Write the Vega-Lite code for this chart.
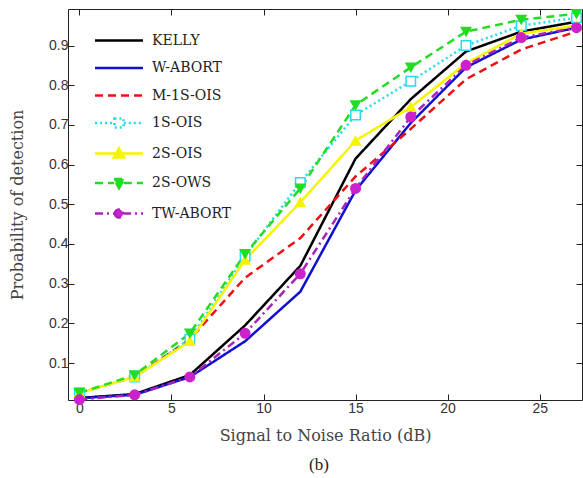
{
  "$schema": "https://vega.github.io/schema/vega-lite/v6.json",
  "width": 514,
  "height": 391,
  "autosize": {"type": "none"},
  "padding": {"left": 68, "top": 9, "right": 1, "bottom": 78},
  "background": "white",
  "title": {"text": "(b)", "orient": "bottom", "anchor": "middle", "font": "Liberation Serif", "fontSize": 17, "fontWeight": "normal", "color": "#222", "offset": 14, "dx": -6},
  "config": {
    "view": {"stroke": null},
    "axis": {"domainColor": "#222", "domainWidth": 1, "tickColor": "#222", "tickSize": -6, "tickWidth": 1, "labelFont": "Liberation Sans", "labelFontSize": 14, "labelColor": "#333", "titleFont": "DejaVu Serif", "titleFontSize": 16, "titleFontWeight": "normal", "titleColor": "#444", "grid": false}
  },
  "data": {"values": [
    {"series": "KELLY", "snr": 0, "pd": 0.012}, {"series": "KELLY", "snr": 3, "pd": 0.022}, {"series": "KELLY", "snr": 6, "pd": 0.07}, {"series": "KELLY", "snr": 9, "pd": 0.195}, {"series": "KELLY", "snr": 12, "pd": 0.345}, {"series": "KELLY", "snr": 15, "pd": 0.615}, {"series": "KELLY", "snr": 18, "pd": 0.765}, {"series": "KELLY", "snr": 21, "pd": 0.885}, {"series": "KELLY", "snr": 24, "pd": 0.935}, {"series": "KELLY", "snr": 27, "pd": 0.96},
    {"series": "W-ABORT", "snr": 0, "pd": 0.012}, {"series": "W-ABORT", "snr": 3, "pd": 0.02}, {"series": "W-ABORT", "snr": 6, "pd": 0.065}, {"series": "W-ABORT", "snr": 9, "pd": 0.155}, {"series": "W-ABORT", "snr": 12, "pd": 0.28}, {"series": "W-ABORT", "snr": 15, "pd": 0.535}, {"series": "W-ABORT", "snr": 18, "pd": 0.705}, {"series": "W-ABORT", "snr": 21, "pd": 0.845}, {"series": "W-ABORT", "snr": 24, "pd": 0.915}, {"series": "W-ABORT", "snr": 27, "pd": 0.945},
    {"series": "M-1S-OIS", "snr": 0, "pd": 0.025}, {"series": "M-1S-OIS", "snr": 3, "pd": 0.065}, {"series": "M-1S-OIS", "snr": 6, "pd": 0.16}, {"series": "M-1S-OIS", "snr": 9, "pd": 0.315}, {"series": "M-1S-OIS", "snr": 12, "pd": 0.415}, {"series": "M-1S-OIS", "snr": 15, "pd": 0.57}, {"series": "M-1S-OIS", "snr": 18, "pd": 0.69}, {"series": "M-1S-OIS", "snr": 21, "pd": 0.815}, {"series": "M-1S-OIS", "snr": 24, "pd": 0.89}, {"series": "M-1S-OIS", "snr": 27, "pd": 0.935},
    {"series": "1S-OIS", "snr": 0, "pd": 0.025}, {"series": "1S-OIS", "snr": 3, "pd": 0.065}, {"series": "1S-OIS", "snr": 6, "pd": 0.16}, {"series": "1S-OIS", "snr": 9, "pd": 0.37}, {"series": "1S-OIS", "snr": 12, "pd": 0.555}, {"series": "1S-OIS", "snr": 15, "pd": 0.725}, {"series": "1S-OIS", "snr": 18, "pd": 0.81}, {"series": "1S-OIS", "snr": 21, "pd": 0.9}, {"series": "1S-OIS", "snr": 24, "pd": 0.95}, {"series": "1S-OIS", "snr": 27, "pd": 0.97},
    {"series": "2S-OIS", "snr": 0, "pd": 0.025}, {"series": "2S-OIS", "snr": 3, "pd": 0.065}, {"series": "2S-OIS", "snr": 6, "pd": 0.155}, {"series": "2S-OIS", "snr": 9, "pd": 0.36}, {"series": "2S-OIS", "snr": 12, "pd": 0.505}, {"series": "2S-OIS", "snr": 15, "pd": 0.66}, {"series": "2S-OIS", "snr": 18, "pd": 0.745}, {"series": "2S-OIS", "snr": 21, "pd": 0.855}, {"series": "2S-OIS", "snr": 24, "pd": 0.93}, {"series": "2S-OIS", "snr": 27, "pd": 0.95},
    {"series": "2S-OWS", "snr": 0, "pd": 0.025}, {"series": "2S-OWS", "snr": 3, "pd": 0.07}, {"series": "2S-OWS", "snr": 6, "pd": 0.175}, {"series": "2S-OWS", "snr": 9, "pd": 0.375}, {"series": "2S-OWS", "snr": 12, "pd": 0.54}, {"series": "2S-OWS", "snr": 15, "pd": 0.75}, {"series": "2S-OWS", "snr": 18, "pd": 0.845}, {"series": "2S-OWS", "snr": 21, "pd": 0.935}, {"series": "2S-OWS", "snr": 24, "pd": 0.965}, {"series": "2S-OWS", "snr": 27, "pd": 0.98},
    {"series": "TW-ABORT", "snr": 0, "pd": 0.008}, {"series": "TW-ABORT", "snr": 3, "pd": 0.02}, {"series": "TW-ABORT", "snr": 6, "pd": 0.065}, {"series": "TW-ABORT", "snr": 9, "pd": 0.175}, {"series": "TW-ABORT", "snr": 12, "pd": 0.325}, {"series": "TW-ABORT", "snr": 15, "pd": 0.54}, {"series": "TW-ABORT", "snr": 18, "pd": 0.72}, {"series": "TW-ABORT", "snr": 21, "pd": 0.85}, {"series": "TW-ABORT", "snr": 24, "pd": 0.92}, {"series": "TW-ABORT", "snr": 27, "pd": 0.945}
  ]},
  "layer": [
    {
      "mark": {"type": "line", "strokeWidth": 2.5},
      "encoding": {
        "x": {"field": "snr", "type": "quantitative", "scale": {"domain": [-0.62, 27.3], "nice": false, "zero": false}, "axis": {"orient": "bottom", "values": [0, 5, 10, 15, 20, 25], "title": "Signal to Noise Ratio (dB)", "labelPadding": 7, "titlePadding": 12}},
        "y": {"field": "pd", "type": "quantitative", "scale": {"domain": [0.007, 0.992], "nice": false, "zero": false}, "axis": {"orient": "left", "values": [0.1, 0.2, 0.3, 0.4, 0.5, 0.6, 0.7, 0.8, 0.9], "format": ".1f", "title": "Probability of detection", "labelPadding": 6, "titlePadding": 23}},
        "color": {"field": "series", "type": "nominal",
          "scale": {"domain": ["KELLY", "W-ABORT", "M-1S-OIS", "1S-OIS", "2S-OIS", "2S-OWS", "TW-ABORT"], "range": ["#000000", "#1010d0", "#ee1111", "#22ddee", "#f5f500", "#22dd22", "#aa22bb"]},
          "legend": {
            "title": null, "orient": "none", "legendX": 27, "legendY": 18, "padding": 0,
            "symbolSize": 100, "symbolStrokeWidth": 2.5, "rowPadding": 6.5, "labelOffset": 8,
            "labelFont": "DejaVu Serif", "labelFontSize": 14, "labelColor": "#222",
            "encode": {
              "symbols": {"update": {
                "shape": {"signal": "datum.value === '1S-OIS' ? 'M-2,0H-0.4M0.4,0H2M-0.38,-0.38H0.38V0.38H-0.38Z' : datum.value === '2S-OIS' ? 'M-2,0H2M0,-0.44L0.44,0.34H-0.44Z' : datum.value === '2S-OWS' ? 'M-2,0H-0.4M0.4,0H2M0,0.44L0.44,-0.34H-0.44Z' : datum.value === 'TW-ABORT' ? 'M-2,0H-0.34M0.34,0H2M-0.34,0A0.34,0.34,0,1,0,0.34,0A0.34,0.34,0,1,0,-0.34,0Z' : 'M-2,0H2'"},
                "size": {"value": 576},
                "x": {"value": 24},
                "fill": {"signal": "datum.value === '2S-OIS' ? '#f5f500' : datum.value === '2S-OWS' ? '#22dd22' : datum.value === 'TW-ABORT' ? '#cc22cc' : datum.value === '1S-OIS' ? 'white' : 'transparent'"},
                "opacity": {"value": 1}
              }},
              "labels": {"update": {"x": {"value": 57}}}
            }
          }
        },
        "strokeDash": {"field": "series", "type": "nominal",
          "scale": {"domain": ["KELLY", "W-ABORT", "M-1S-OIS", "1S-OIS", "2S-OIS", "2S-OWS", "TW-ABORT"], "range": [[1, 0], [1, 0], [8, 5], [2, 3], [1, 0], [8, 5], [8, 4, 2, 4]]}
        }
      }
    },
    {
      "transform": [{"filter": {"field": "series", "oneOf": ["1S-OIS", "2S-OIS", "2S-OWS", "TW-ABORT"]}}],
      "mark": {"type": "point", "strokeWidth": 1.5, "opacity": 1},
      "encoding": {
        "x": {"field": "snr", "type": "quantitative", "scale": {"domain": [-0.62, 27.3], "nice": false, "zero": false}, "axis": {"orient": "top", "values": [0, 5, 10, 15, 20, 25], "labels": false, "title": null}},
        "y": {"field": "pd", "type": "quantitative", "scale": {"domain": [0.007, 0.992], "nice": false, "zero": false}, "axis": {"orient": "right", "values": [0.1, 0.2, 0.3, 0.4, 0.5, 0.6, 0.7, 0.8, 0.9], "labels": false, "title": null}},
        "shape": {"field": "series", "type": "nominal", "scale": {"domain": ["1S-OIS", "2S-OIS", "2S-OWS", "TW-ABORT"], "range": ["square", "triangle-up", "triangle-down", "circle"]}, "legend": null},
        "fill": {"field": "series", "type": "nominal", "scale": {"domain": ["1S-OIS", "2S-OIS", "2S-OWS", "TW-ABORT"], "range": ["white", "#f5f500", "#22dd22", "#cc22cc"]}, "legend": null},
        "stroke": {"field": "series", "type": "nominal", "scale": {"domain": ["1S-OIS", "2S-OIS", "2S-OWS", "TW-ABORT"], "range": ["#22ddee", "#f5f500", "#22dd22", "#cc22cc"]}, "legend": null},
        "size": {"value": 90}
      }
    }
  ],
  "resolve": {"axis": {"x": "independent", "y": "independent"}}
}
